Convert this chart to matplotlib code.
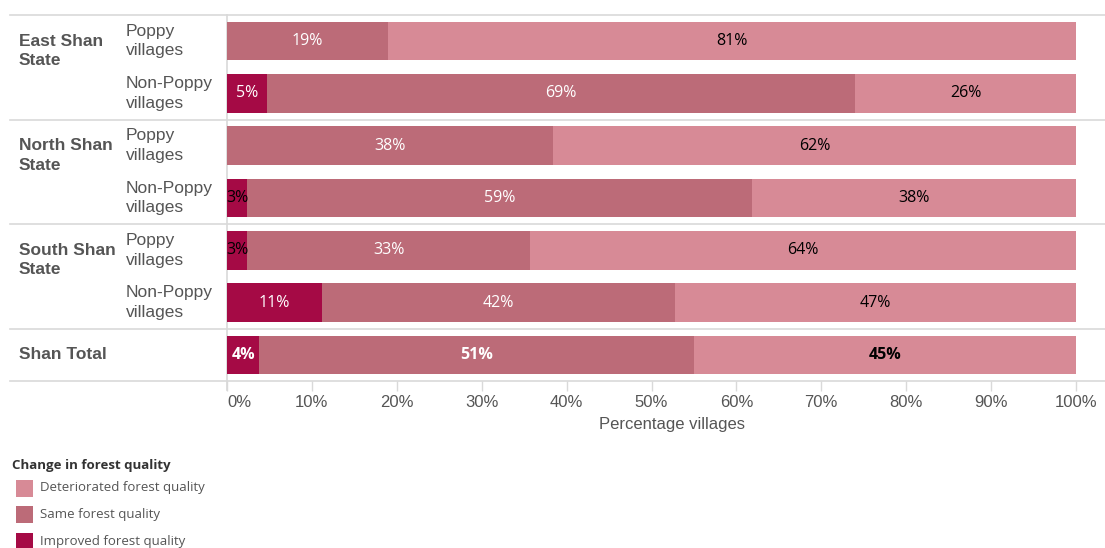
import matplotlib
matplotlib.use("Agg")
import matplotlib.pyplot as plt
from matplotlib.patches import Rectangle
import matplotlib.transforms as mtransforms

groups = ["East Shan\nState", "North Shan\nState", "South Shan\nState", "Shan Total"]
subgroups = ["Poppy\nvillages", "Non-Poppy\nvillages", "Poppy\nvillages", "Non-Poppy\nvillages",
             "Poppy\nvillages", "Non-Poppy\nvillages", ""]
improved = [0.0, 4.7, 0.0, 2.4, 2.4, 11.2, 3.8]
same = [19.0, 69.3, 38.4, 59.4, 33.3, 41.6, 51.2]
deteriorated = [81.0, 26.0, 61.6, 38.2, 64.3, 47.2, 45.0]
improved_lbl = ["", "5%", "", "3%", "3%", "11%", "4%"]
same_lbl = ["19%", "69%", "38%", "59%", "33%", "42%", "51%"]
det_lbl = ["81%", "26%", "62%", "38%", "64%", "47%", "45%"]
ticks = [0, 10, 20, 30, 40, 50, 60, 70, 80, 90, 100]
tick_labels = ["0%", "10%", "20%", "30%", "40%", "50%", "60%", "70%", "80%", "90%", "100%"]
legend_labels = ["Deteriorated forest quality", "Same forest quality", "Improved forest quality"]

c_det = "#D78A96"
c_same = "#BC6B78"
c_imp = "#A50A45"
gray = "#555555"
linec = "#D9D9D9"

W, H = 1105, 548
fig = plt.figure(figsize=(W / 100, H / 100), dpi=100)
ax = fig.add_axes([227 / W, 1 - 381 / H, (1076 - 227) / W, (381 - 15) / H])

rows = list(range(len(same)))
bh = 0.74
left_same = improved
left_det = [a + b for a, b in zip(improved, same)]
ax.barh(rows, improved, height=bh, color=c_imp, linewidth=0)
ax.barh(rows, same, left=left_same, height=bh, color=c_same, linewidth=0)
ax.barh(rows, deteriorated, left=left_det, height=bh, color=c_det, linewidth=0)

bar_font = "Open Sans"
fs_bar = 11.5
for i in rows:
    bold = "bold" if i == 6 else "normal"
    if improved_lbl[i]:
        col = "black" if improved[i] < 3 else "white"
        ax.text(improved[i] / 2, i, improved_lbl[i], ha="center", va="center", color=col,
                fontsize=fs_bar, family=bar_font, fontweight=bold)
    ax.text(left_same[i] + same[i] / 2, i, same_lbl[i], ha="center", va="center", color="white",
            fontsize=fs_bar, family=bar_font, fontweight=bold)
    ax.text(left_det[i] + deteriorated[i] / 2, i, det_lbl[i], ha="center", va="center", color="black",
            fontsize=fs_bar, family=bar_font, fontweight=bold)

ax.set_xlim(0, 100)
ax.set_ylim(6.5, -0.5)
for s in ax.spines.values():
    s.set_visible(False)
ax.set_yticks([])
ax.set_xticks(ticks)
ax.set_xticklabels(tick_labels, fontsize=12, color=gray, family="Liberation Sans")
ax.tick_params(axis="x", length=7, color=linec, width=1, pad=3)
lbls = ax.get_xticklabels()
lbls[0].set_horizontalalignment("left")
ax.set_xlabel("")
fig.text(672 / W, 1 - 425 / H, "Percentage villages", ha="center", va="center",
         fontsize=12, color=gray, family="Liberation Sans")

# separators
trans = mtransforms.blended_transform_factory(ax.transAxes, ax.transData)
x0 = (10 - 227) / (1076 - 227)
x1 = (1105 - 227) / (1076 - 227)
for y in [-0.5, 1.5, 3.5, 5.5, 6.5]:
    ax.plot([x0, x1], [y, y], transform=trans, color=linec, lw=1.2, clip_on=False, zorder=0)
ax.plot([0, 0], [-0.5, 6.5 + 9 / 52.3], color=linec, lw=1.2, clip_on=False, zorder=0.5)

# left labels
for gi, g in enumerate(groups):
    if gi < 3:
        y = gi * 2 + 0.19
    else:
        y = 6
    ax.text((19 - 227) / (1076 - 227), y, g, transform=trans, ha="left", va="center",
            fontsize=12.5, fontweight="bold", color=gray, family="Liberation Sans", linespacing=1.38)
for i, s in enumerate(subgroups):
    if s:
        ax.text((126 - 227) / (1076 - 227), i, s, transform=trans, ha="left", va="center",
                fontsize=12.5, color=gray, family="Liberation Sans", linespacing=1.38)

# legend
fig.text(12 / W, 1 - 465 / H, "Change in forest quality", ha="left", va="center", fontsize=9.5,
         fontweight="bold", color="#333333", family="Open Sans")
for k, (lab, col) in enumerate(zip(legend_labels, [c_det, c_same, c_imp])):
    yc = 488 + k * 26.5
    fig.patches.append(Rectangle((16 / W, 1 - (yc + 8.5) / H), 17 / W, 17 / H,
                                 transform=fig.transFigure, facecolor=col, edgecolor="none"))
    fig.text(40 / W, 1 - yc / H, lab, ha="left", va="center", fontsize=9.5, color=gray,
             family="Open Sans")

fig.savefig("out.png", dpi=100)
